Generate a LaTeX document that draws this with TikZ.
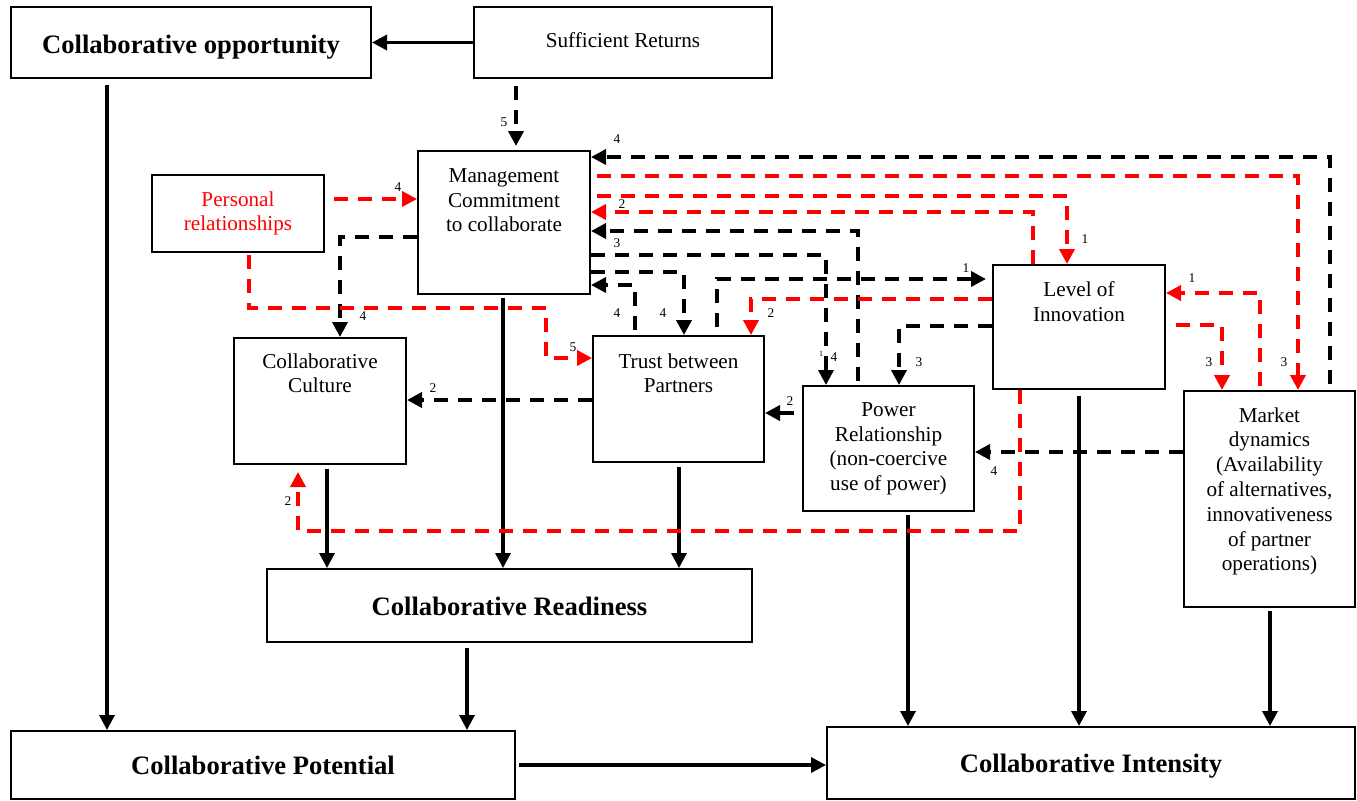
\documentclass[tikz,border=0pt]{standalone}
\usepackage{fontspec}
\setmainfont{Liberation Serif}
\usetikzlibrary{arrows.meta,fit}
\definecolor{linkred}{RGB}{255,0,0}
\begin{document}
\begin{tikzpicture}[x=0.5pt,y=-0.5pt,
  box/.style={draw, line width=1pt, inner sep=0pt},
  body/.style={font=\fontsize{10.6}{12.4}\selectfont, align=center, inner sep=0pt, anchor=north},
  head/.style={font=\fontsize{13.3}{16}\selectfont\bfseries, inner sep=0pt, anchor=base},
  num/.style={font=\fontsize{6.7}{8}\selectfont, inner sep=0pt},
  tip/.style={-{Triangle[length=7.5pt,width=7.5pt]}},
  flow/.style={tip, line width=1.7pt},
  blklink/.style={tip, line width=1.8pt, dash pattern=on 7pt off 5pt},
  redlink/.style={blklink, draw=linkred},
]
\useasboundingbox (0,0) rectangle (1357,800);

% ---- boxes ----
\node[box, fit={(11,7)(371,78)}]      (co) {};
\node[box, fit={(474,7)(772,78)}]     (sr) {};
\node[box, fit={(418,151)(590,294)}]  (mc) {};
\node[box, fit={(152,175)(324,252)}]  (pr) {};
\node[box, fit={(234,338)(406,464)}]  (cc) {};
\node[box, fit={(593,336)(764,462)}]  (tp) {};
\node[box, fit={(803,386)(974,511)}]  (pw) {};
\node[box, fit={(993,265)(1165,389)}] (li) {};
\node[box, fit={(1184,391)(1355,607)}] (md) {};
\node[box, fit={(267,569)(752,642)}]  (cr) {};
\node[box, fit={(11,731)(515,799)}]   (cp) {};
\node[box, fit={(827,727)(1355,799)}] (ci) {};

% ---- box texts ----
\node[head] (cot) at (191,53) {Collaborative opportunity};
\node[font=\fontsize{10.6}{12.4}\selectfont, inner sep=0pt, anchor=base] (srt) at (623,47) {Sufficient Returns};
\node[body] (mct) at (504,168) {Management\\Commitment\\to collaborate};
\node[body, text=linkred] (prt) at (238,191) {Personal\\relationships};
\node[body] (cct) at (320,353) {Collaborative\\Culture};
\node[body] (tpt) at (678.5,353) {Trust between\\Partners};
\node[body] (pwt) at (888.5,402) {Power\\Relationship\\(non-coercive\\use of power)};
\node[body] (lit) at (1079,281) {Level of\\Innovation};
\node[body] (mdt) at (1269.5,407) {Market\\dynamics\\(Availability\\of alternatives,\\innovativeness\\of partner\\operations)};
\node[head] (crt) at (509.5,615) {Collaborative Readiness};
\node[head] (cpt) at (263,774) {Collaborative Potential};
\node[head] (cit) at (1091,772) {Collaborative Intensity};

% ---- solid flows ----
\draw[flow] (sr.west) -- (co.east);
\draw[flow, shorten <=3pt] (co.south -| 107,0) -- (cp.north -| 107,0);
\draw[flow, shorten <=1.5pt] (mc.south -| 503,0) -- (cr.north -| 503,0);
\draw[flow, shorten <=2pt] (cc.south -| 327,0) -- (cr.north -| 327,0);
\draw[flow, shorten <=2pt] (tp.south -| 679,0) -- (cr.north -| 679,0);
\draw[flow, shorten <=2.5pt] (cr.south -| 467,0) -- (cp.north -| 467,0);
\draw[flow, shorten <=1.5pt] (cp.east |- 0,765) -- (ci.west |- 0,765);
\draw[flow, shorten <=1.5pt] (pw.south -| 908,0) -- (ci.north -| 908,0);
\draw[flow, shorten <=3pt] (li.south -| 1079,0) -- (ci.north -| 1079,0);
\draw[flow, shorten <=1.5pt] (md.south -| 1270,0) -- (ci.north -| 1270,0);

% ---- black dashed links ----
\draw[blklink, shorten <=3.5pt, shorten >=2pt] (sr.south -| 516,0) -- (mc.north -| 516,0);
\draw[blklink, shorten <=3pt] (md.north -| 1330,0) |- (mc.east |- 0,157);
\draw[blklink] (mc.west |- 0,237) -| (cc.north -| 340,0);
\draw[blklink] (tp.west |- 0,400) -- (cc.east |- 0,400);
\draw[blklink, shorten <=4pt] (pw.west |- 0,413) -- (tp.east |- 0,413);
\draw[blklink] (md.west |- 0,452) -- (pw.east |- 0,452);
\draw[blklink] (li.west |- 0,326) -| (pw.north -| 899,0);
\draw[blklink, shorten <=4pt, shorten >=3pt] (tp.north -| 717,0) |- (li.west |- 0,279);
\draw[blklink] (mc.east |- 0,272) -| (tp.north -| 684,0);
\draw[blklink, shorten <=2.5pt] (tp.north -| 635,0) |- (mc.east |- 0,285);
\draw[blklink] (mc.east |- 0,255) -| (pw.north -| 826,0);
\draw[blklink, shorten <=2pt] (pw.north -| 858,0) |- (mc.east |- 0,231);

% ---- red dashed links ----
\draw[redlink, shorten <=4.5pt] (pr.east |- 0,199) -- (mc.west |- 0,199);
\draw[redlink, shorten <=1pt] (pr.south -| 249,0) |- (546,308) |- (tp.west |- 0,358);
\draw[redlink] (li.north -| 1033,0) |- (mc.east |- 0,212);
\draw[redlink, shorten <=3pt] (mc.east |- 0,196) -| (li.north -| 1067,0);
\draw[redlink, shorten <=3pt] (mc.east |- 0,176) -| (md.north -| 1298,0);
\draw[redlink, shorten <=2pt] (md.north -| 1260,0) |- (li.east |- 0,293);
\draw[redlink, shorten <=5pt] (li.east |- 0,325) -| (md.north -| 1222,0);
\draw[redlink] (li.west |- 0,299) -| (tp.north -| 751,0);
\draw[redlink, shorten >=3.5pt] (li.south -| 1020,0) -- (1020,531) -| (cc.south -| 298,0);

% ---- link weights ----
\node[num] (n1)  at (504,122) {5};
\node[num] (n2)  at (617,139) {4};
\node[num] (n3)  at (622,204) {2};
\node[num] (n4)  at (617,243) {3};
\node[num] (n5)  at (398,187) {4};
\node[num] (n6)  at (363,316) {4};
\node[num] (n7)  at (573,347) {5};
\node[num] (n8)  at (433,388) {2};
\node[num] (n9)  at (288,501) {2};
\node[num] (n10) at (617,313) {4};
\node[num] (n11) at (663,313) {4};
\node[num] (n12) at (771,313) {2};
\node[num] (n13) at (790,401) {2};
\node[num] (n14) at (834,357) {4};
\node[num, font=\fontsize{4}{4}\selectfont] (n14a) at (821,354) {1};
\node[num] (n15) at (966,268) {1};
\node[num] (n16) at (919,362) {3};
\node[num] (n17) at (994,471) {4};
\node[num] (n18) at (1085,239) {1};
\node[num] (n19) at (1192,278) {1};
\node[num] (n20) at (1209,362) {3};
\node[num] (n21) at (1284,362) {3};
\end{tikzpicture}
\end{document}
